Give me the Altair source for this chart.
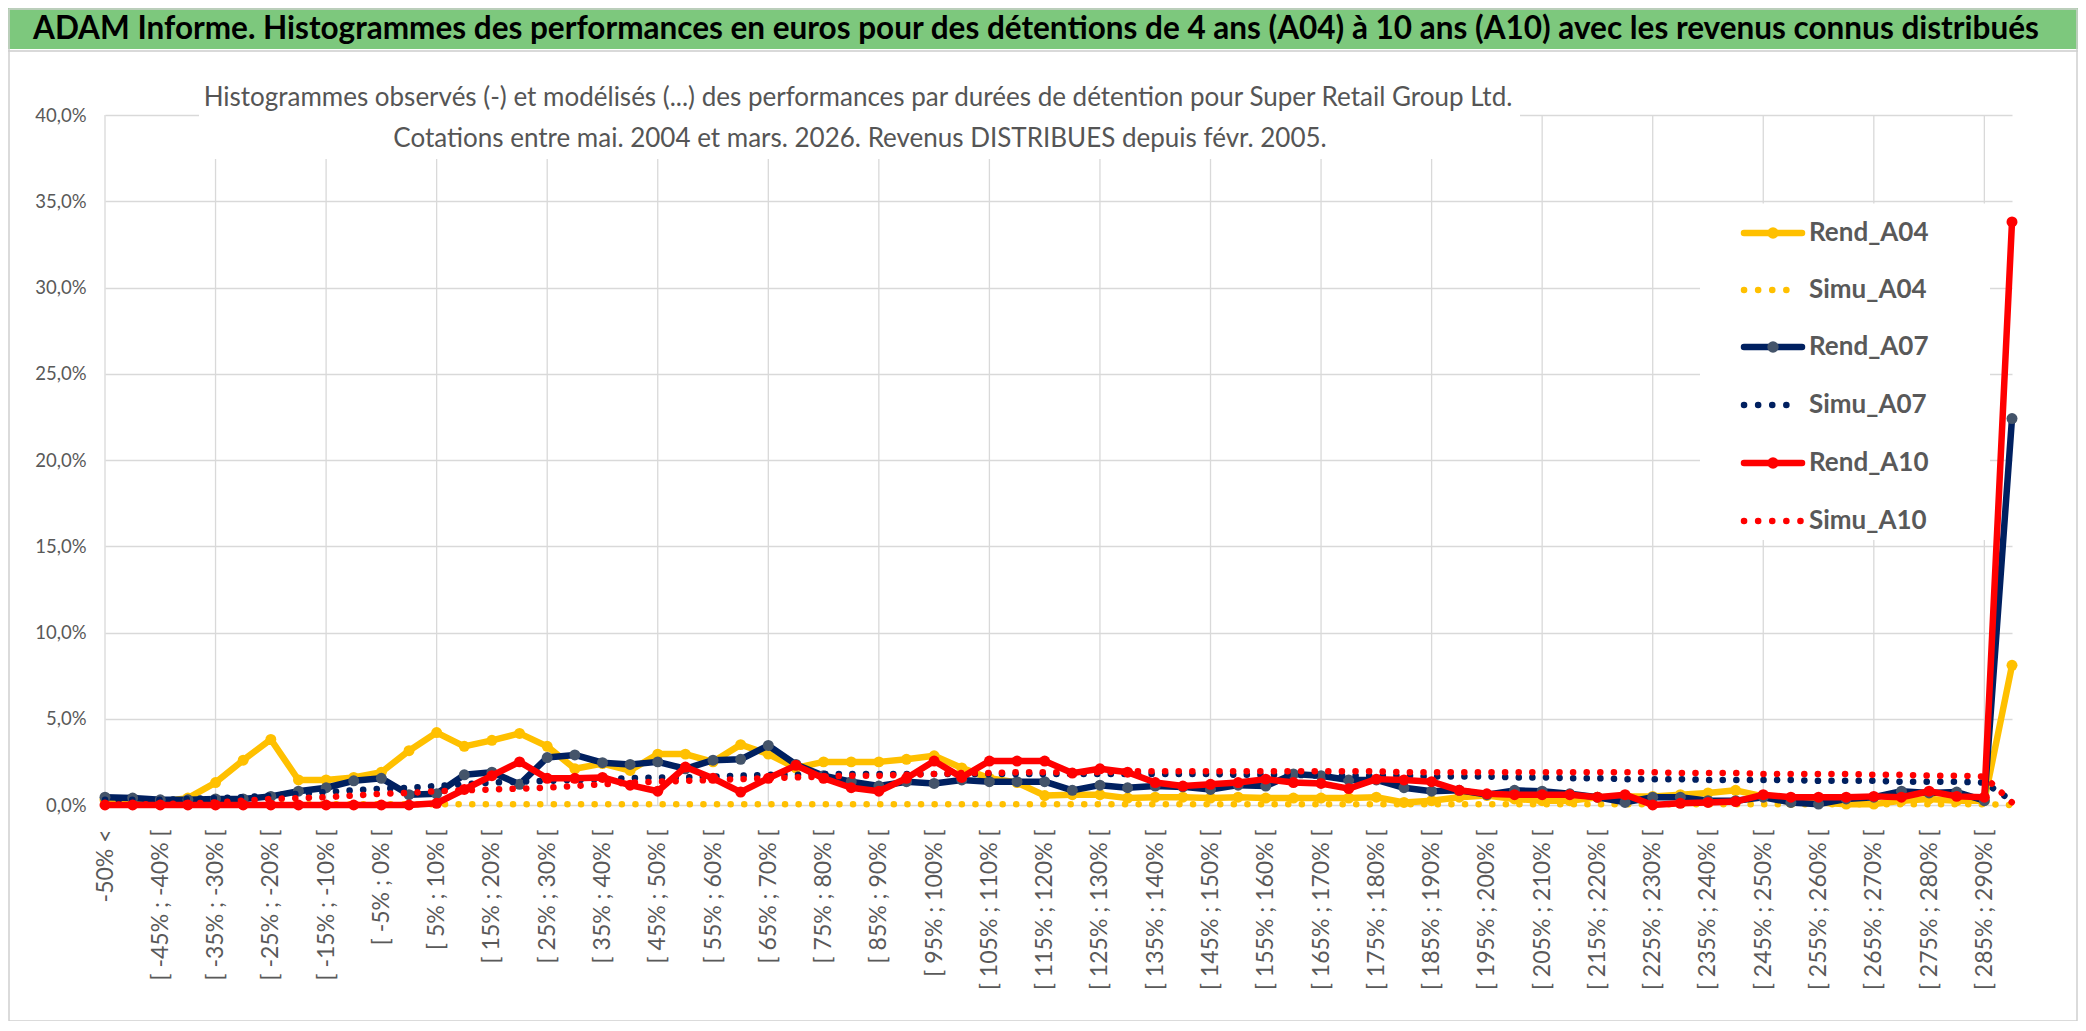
import json
import altair as alt
import pandas as pd

# ---------------- data ----------------
categories = ["-50% <"] + [f"[ {a}% ; {a + 5}% [" for a in range(-50, 290, 5)] + ["> 290%"]

rend_a04 = [0.3, 0.3, 0.2, 0.4, 1.3, 2.6, 3.8, 1.45, 1.45, 1.6,
            1.9, 3.15, 4.2, 3.4, 3.75, 4.15, 3.4, 2.1, 2.4, 2.0,
            2.95, 2.95, 2.5, 3.5, 2.95, 2.15, 2.5, 2.5, 2.5, 2.65,
            2.85, 2.15, 1.55, 1.3, 0.55, 0.6, 0.6, 0.4, 0.45, 0.45,
            0.4, 0.45, 0.4, 0.4, 0.4, 0.4, 0.45, 0.15, 0.25, 0.45,
            0.55, 0.35, 0.25, 0.25, 0.45, 0.5, 0.5, 0.6, 0.7, 0.85,
            0.5, 0.15, 0.15, 0.05, 0.05, 0.25, 0.35, 0.25, 0.25, 8.1]

simu_a04 = [0.0, 0.05, 0.05, 0.05, 0.05, 0.05, 0.05, 0.05, 0.05, 0.05,
            0.05, 0.05, 0.05, 0.05, 0.05, 0.05, 0.05, 0.05, 0.05, 0.05,
            0.05, 0.05, 0.05, 0.05, 0.05, 0.05, 0.05, 0.05, 0.05, 0.05,
            0.05, 0.05, 0.05, 0.05, 0.05, 0.05, 0.05, 0.05, 0.05, 0.05,
            0.05, 0.05, 0.05, 0.05, 0.05, 0.05, 0.05, 0.05, 0.05, 0.05,
            0.05, 0.05, 0.05, 0.05, 0.05, 0.05, 0.05, 0.05, 0.05, 0.05,
            0.05, 0.05, 0.05, 0.05, 0.05, 0.05, 0.05, 0.05, 0.05, 0.0]

rend_a07 = [0.45, 0.4, 0.3, 0.3, 0.35, 0.35, 0.5, 0.8, 1.0, 1.4,
            1.55, 0.6, 0.65, 1.75, 1.9, 1.2, 2.75, 2.9, 2.45, 2.35,
            2.5, 2.1, 2.6, 2.65, 3.45, 2.35, 1.7, 1.35, 1.1, 1.35,
            1.25, 1.45, 1.35, 1.35, 1.35, 0.85, 1.15, 1.0, 1.1, 1.05,
            0.9, 1.15, 1.1, 1.8, 1.7, 1.45, 1.45, 1.0, 0.8, 0.85,
            0.6, 0.85, 0.8, 0.65, 0.45, 0.15, 0.45, 0.45, 0.25, 0.25,
            0.45, 0.15, 0.05, 0.35, 0.45, 0.8, 0.7, 0.75, 0.25, 22.4]

simu_a07 = [0.3, 0.3, 0.3, 0.35, 0.4, 0.45, 0.55, 0.65, 0.75, 0.85,
            0.95, 1.0, 1.1, 1.2, 1.3, 1.35, 1.4, 1.45, 1.5, 1.55,
            1.6, 1.6, 1.65, 1.7, 1.75, 1.75, 1.8, 1.8, 1.8, 1.8,
            1.8, 1.8, 1.8, 1.8, 1.8, 1.8, 1.8, 1.8, 1.8, 1.8,
            1.8, 1.75, 1.75, 1.75, 1.7, 1.7, 1.7, 1.7, 1.65, 1.65,
            1.65, 1.6, 1.6, 1.55, 1.55, 1.5, 1.5, 1.5, 1.45, 1.45,
            1.45, 1.45, 1.4, 1.4, 1.4, 1.35, 1.35, 1.35, 1.3, 0.25]

rend_a10 = [0.0, 0.0, 0.0, 0.0, 0.0, 0.0, 0.0, 0.0, 0.0, 0.0,
            0.0, 0.0, 0.1, 0.9, 1.7, 2.5, 1.55, 1.55, 1.6, 1.15,
            0.8, 2.2, 1.55, 0.75, 1.55, 2.3, 1.55, 1.0, 0.8, 1.55,
            2.55, 1.6, 2.55, 2.55, 2.55, 1.85, 2.1, 1.9, 1.3, 1.1,
            1.2, 1.3, 1.5, 1.3, 1.25, 0.95, 1.5, 1.45, 1.35, 0.85,
            0.65, 0.6, 0.6, 0.6, 0.45, 0.6, 0.0, 0.1, 0.15, 0.2,
            0.6, 0.45, 0.45, 0.45, 0.5, 0.45, 0.8, 0.5, 0.45, 33.8]

simu_a10 = [0.0, 0.05, 0.05, 0.1, 0.15, 0.25, 0.35, 0.4, 0.45, 0.55,
            0.65, 0.7, 0.8, 0.85, 0.9, 0.95, 1.0, 1.1, 1.2, 1.3,
            1.35, 1.4, 1.45, 1.5, 1.55, 1.6, 1.65, 1.7, 1.7, 1.75,
            1.8, 1.85, 1.85, 1.9, 1.9, 1.9, 1.9, 1.95, 1.95, 1.95,
            1.95, 1.95, 1.95, 1.95, 1.95, 1.95, 1.95, 1.9, 1.9, 1.9,
            1.9, 1.9, 1.9, 1.9, 1.9, 1.9, 1.9, 1.85, 1.85, 1.85,
            1.8, 1.8, 1.8, 1.8, 1.75, 1.75, 1.7, 1.7, 1.65, 0.15]

series_names = ["Rend_A04", "Simu_A04", "Rend_A07", "Simu_A07", "Rend_A10", "Simu_A10"]
series_values = [rend_a04, simu_a04, rend_a07, simu_a07, rend_a10, simu_a10]
y_ticks = [0, 5, 10, 15, 20, 25, 30, 35, 40]

title_text = ("ADAM Informe. Histogrammes des performances en euros pour des détentions "
              "de 4 ans (A04) à 10 ans (A10) avec les revenus connus distribués")
subtitle_1 = ("Histogrammes observés (-) et modélisés (...) des performances par durées "
              "de détention pour Super Retail Group Ltd.")
subtitle_2 = "Cotations entre mai. 2004 et mars. 2026. Revenus DISTRIBUES depuis févr. 2005."

# ---------------- styles ----------------
W, H = 1907, 690
FONT = "Lato"
GRAY = "#595959"
GRID = "#D9D9D9"
YELLOW, NAVY, RED = "#FFC000", "#002060", "#FF0000"
LW = 6.5
styles = {
    "Rend_A04": (YELLOW, "solid", YELLOW),
    "Simu_A04": (YELLOW, "dot", None),
    "Rend_A07": (NAVY, "solid", "#44546A"),
    "Simu_A07": (NAVY, "dot", None),
    "Rend_A10": (RED, "solid", RED),
    "Simu_A10": (RED, "dot", None),
}

x_scale = alt.Scale(domain=[0, len(categories) - 1], nice=False, zero=False)
y_scale = alt.Scale(domain=[0, 40], nice=False)

label_expr = "[" + ",".join(json.dumps(c) for c in categories) + "][datum.value]"
x_axis = alt.Axis(values=list(range(0, len(categories), 2)), grid=False, domain=False,
                  ticks=False, labelAngle=270, labelAlign="right", labelBaseline="middle",
                  labelPadding=24, labelExpr=label_expr, labelFont=FONT, labelFontSize=23,
                  labelColor=GRAY, labelOverlap=False, labelFlush=False, title=None)
y_axis = alt.Axis(values=y_ticks, grid=True, gridColor=GRID, gridWidth=1.3, domain=False,
                  ticks=False, labelPadding=19, labelFont=FONT, labelFontSize=18.5,
                  labelColor=GRAY, labelFlush=False, title=None,
                  labelExpr="replace(format(datum.value, '.1f'), '.', ',') + '%'")


def xq(field):
    return alt.X(f"{field}:Q", scale=x_scale, axis=x_axis)


one = pd.DataFrame({"k": [0]})
layers = []

# vertical gridlines every 4 categories
grid_df = pd.DataFrame({"gx": [i for i in range(len(categories)) if i % 4 == 0]})
layers.append(alt.Chart(grid_df).mark_rule(color=GRID, strokeWidth=1.3).encode(
    x=xq("gx"), y=alt.value(0), y2=alt.value(H)))

# data series
for name, vals in zip(series_names, series_values):
    color, kind, mcolor = styles[name]
    d = pd.DataFrame({"idx": list(range(len(vals))), "val": vals})
    if kind == "solid":
        m = alt.Chart(d).mark_line(color=color, strokeWidth=LW, strokeJoin="round",
                                   strokeCap="round",
                                   point=alt.OverlayMarkDef(filled=True, color=mcolor,
                                                            size=120, opacity=1))
    else:
        m = alt.Chart(d).mark_line(color=color, strokeWidth=LW, strokeCap="round",
                                   strokeDash=[0.1, 13.5])
    layers.append(m.encode(x=xq("idx"), y=alt.Y("val:Q", scale=y_scale, axis=y_axis)))

# subtitle box + texts
layers.append(alt.Chart(one).mark_rect(color="white").encode(
    x=alt.value(94), x2=alt.value(1415), y=alt.value(-60), y2=alt.value(44)))
layers.append(alt.Chart(one).mark_text(text=subtitle_1, font=FONT, fontSize=26, color="#555555",
                                       align="center", baseline="alphabetic").encode(
    x=alt.value(753), y=alt.value(-9)))
layers.append(alt.Chart(one).mark_text(text=subtitle_2, font=FONT, fontSize=26, color="#555555",
                                       align="center", baseline="alphabetic").encode(
    x=alt.value(755), y=alt.value(32)))

# legend
layers.append(alt.Chart(one).mark_rect(color="white").encode(
    x=alt.value(1595), x2=alt.value(1885), y=alt.value(88.5), y2=alt.value(425)))
row_y = [118, 175, 232, 290, 348, 406]
for name, ry in zip(series_names, row_y):
    color, kind, mcolor = styles[name]
    ld = pd.DataFrame({"name": [name]})
    if kind == "solid":
        layers.append(alt.Chart(ld).mark_rule(color=color, strokeWidth=LW, strokeCap="round").encode(
            x=alt.value(1639), x2=alt.value(1697), y=alt.value(ry)))
        layers.append(alt.Chart(ld).mark_circle(color=mcolor, size=130, opacity=1).encode(
            x=alt.value(1668), y=alt.value(ry)))
    else:
        x_end = 1696 if name == "Simu_A10" else 1682
        layers.append(alt.Chart(ld).mark_rule(color=color, strokeWidth=LW, strokeCap="round",
                                              strokeDash=[0.1, 14]).encode(
            x=alt.value(1639), x2=alt.value(x_end), y=alt.value(ry)))
    layers.append(alt.Chart(ld).mark_text(font=FONT, fontSize=26, fontWeight="bold", color=GRAY,
                                          align="left", baseline="middle").encode(
        text="name:N", x=alt.value(1704), y=alt.value(ry)))

# title band
layers.append(alt.Chart(one).mark_rect(color="#7DC87D").encode(
    x=alt.value(-97), x2=alt.value(1973), y=alt.value(-107), y2=alt.value(-66)))
layers.append(alt.Chart(one).mark_rule(color=GRID, strokeWidth=2).encode(
    x=alt.value(-97), x2=alt.value(1973), y=alt.value(-64)))
layers.append(alt.Chart(one).mark_text(text=title_text, font=FONT, fontSize=31.5, fontWeight="bold",
                                       color="black", align="left", baseline="alphabetic").encode(
    x=alt.value(-72), y=alt.value(-76)))

# chart border
layers.append(alt.Chart(one).mark_rect(fillOpacity=0, stroke="#D0D0D0", strokeWidth=1.5).encode(
    x=alt.value(-96), x2=alt.value(1972), y=alt.value(-106), y2=alt.value(906)))

chart = alt.layer(*layers).properties(
    width=W, height=H,
    autosize=alt.AutoSizeParams(type="none"),
    padding={"left": 97, "top": 107, "right": 66, "bottom": 216},
    background="white",
).configure_view(strokeWidth=0)

chart.save("out.html", embed_options={"renderer": "svg", "actions": False})
